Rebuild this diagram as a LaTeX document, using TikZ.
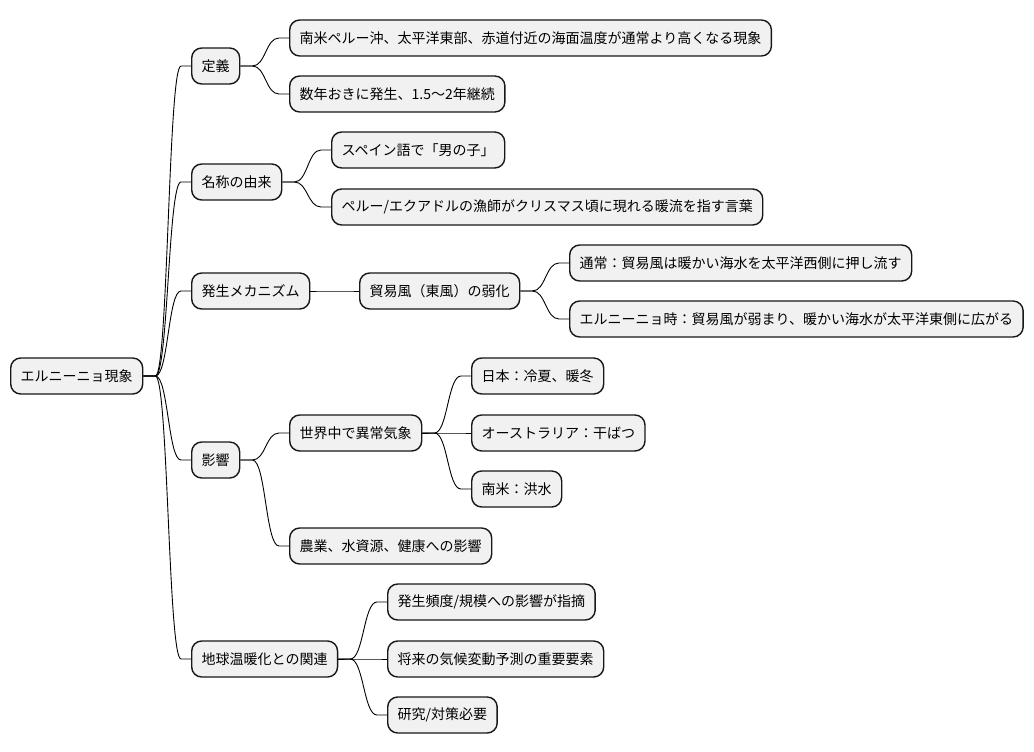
\documentclass[tikz,border=0pt]{standalone}
\usepackage{fontspec}
\setmainfont{Noto Sans CJK JP}
\usetikzlibrary{calc}
\definecolor{boxfill}{HTML}{F1F1F1}
\definecolor{boxline}{HTML}{181818}
\tikzset{
  mm/.style={draw=boxline, fill=boxfill, line width=1.4pt, rounded corners=10pt,
    anchor=west, minimum height=36pt, inner xsep=10pt, inner ysep=0pt,
    font=\fontsize{14pt}{16pt}\selectfont, text=black},
  mmedge/.style={draw=black, line width=0.9pt, to path={
    let \p1=(\tikztostart.east), \p2=(\tikztotarget.west),
        \n1={(\x1+12pt+\x2-10pt)/2} in
    (\p1) -- (\x1+12pt,\y1) .. controls (\n1,\y1) and (\n1,\y2) .. (\x2-10pt,\y2) -- (\p2)}}
}
\begin{document}
\begin{tikzpicture}[x=1pt,y=-1pt]
\fill[white] (0,0) rectangle (1034,752);
\useasboundingbox (0,0) rectangle (1034,752);
% root
\node[mm] (root) at (10,376) {エルニーニョ現象};
% level 1
\node[mm] (def) at (191,66) {定義};
\node[mm] (name) at (191,182) {名称の由来};
\node[mm] (mech) at (191,291) {発生メカニズム};
\node[mm] (eff) at (191,460) {影響};
\node[mm] (glob) at (191,659) {地球温暖化との関連};
% level 2
\node[mm] (d1) at (289,38) {南米ペルー沖、太平洋東部、赤道付近の海面温度が通常より高くなる現象};
\node[mm] (d2) at (289,94) {数年おきに発生、1.5〜2年継続};
\node[mm] (n1) at (331,150) {スペイン語で「男の子」};
\node[mm] (n2) at (331,207) {ペルー/エクアドルの漁師がクリスマス頃に現れる暖流を指す言葉};
\node[mm] (m1) at (359,291) {貿易風（東風）の弱化};
\node[mm] (e1) at (289,433) {世界中で異常気象};
\node[mm] (e2) at (289,546) {農業、水資源、健康への影響};
\node[mm] (g1) at (387,602) {発生頻度/規模への影響が指摘};
\node[mm] (g2) at (387,659) {将来の気候変動予測の重要要素};
\node[mm] (g3) at (387,715) {研究/対策必要};
% level 3
\node[mm] (m2) at (569,263) {通常：貿易風は暖かい海水を太平洋西側に押し流す};
\node[mm] (m3) at (569,319) {エルニーニョ時：貿易風が弱まり、暖かい海水が太平洋東側に広がる};
\node[mm] (e11) at (471,376) {日本：冷夏、暖冬};
\node[mm] (e12) at (471,433) {オーストラリア：干ばつ};
\node[mm] (e13) at (471,489) {南米：洪水};
% connectors
\foreach \a/\b in {root/def,root/name,root/mech,root/eff,root/glob,
  def/d1,def/d2,name/n1,name/n2,mech/m1,m1/m2,m1/m3,
  eff/e1,eff/e2,e1/e11,e1/e12,e1/e13,glob/g1,glob/g2,glob/g3}
  \draw[mmedge] (\a) to (\b);
\end{tikzpicture}
\end{document}
